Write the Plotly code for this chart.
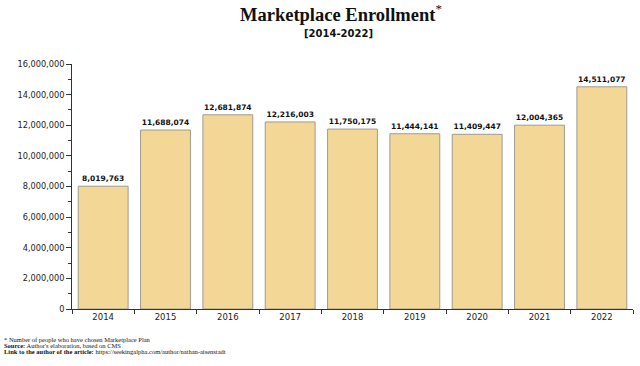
import plotly.graph_objects as go

years = ["2014", "2015", "2016", "2017", "2018", "2019", "2020", "2021", "2022"]
enrollment = [8019763, 11688074, 12681874, 12216003, 11750175, 11444141, 11409447, 12004365, 14511077]
y_ticks = [0, 2000000, 4000000, 6000000, 8000000, 10000000, 12000000, 14000000, 16000000]
footnotes = [
    "* Number of people who have chosen Marketplace Plan",
    "<b>Source:</b> Author's elaboration, based on CMS",
    "<b>Link to the author of the article:</b> https://seekingalpha.com/author/nathan-aisenstadt",
]

fig = go.Figure(go.Bar(
    x=years, y=enrollment,
    marker=dict(color="#F3D797", line=dict(color="#A09A8E", width=1)),
    text=[f"{v:,}" for v in enrollment],
    textposition="outside",
    textfont=dict(family="DejaVu Sans", size=7.5, color="#111111", weight="bold"),
    cliponaxis=False,
))

fig.update_layout(
    width=640, height=366,
    margin=dict(l=72, r=7, t=64, b=57),
    plot_bgcolor="white", paper_bgcolor="white",
    bargap=0.2,
    showlegend=False,
    font=dict(family="DejaVu Sans", size=8.2, color="#222222"),
)
fig.update_yaxes(
    range=[0, 16000000], tickvals=y_ticks, ticktext=[f"{v:,}" for v in y_ticks],
    showgrid=False, zeroline=False, showline=True, linecolor="#333333", linewidth=1,
    ticks="outside", ticklen=5, tickcolor="#333333", automargin=False,
    minor=dict(dtick=1000000, ticks="outside", ticklen=3, tickcolor="#333333", showgrid=False),
    tickfont=dict(family="DejaVu Sans", size=8.2),
)
fig.update_xaxes(
    showgrid=False, showline=True, linecolor="#333333", linewidth=1, automargin=False,
    ticks="outside", tickson="boundaries", ticklen=4, tickcolor="#333333",
    tickfont=dict(family="DejaVu Sans", size=8.5),
)

fig.add_annotation(text="<b>Marketplace Enrollment</b><sup>*</sup>", xref="paper", yref="paper",
                   x=0.5, xshift=-12, y=1, yshift=51, showarrow=False, xanchor="center", yanchor="middle",
                   font=dict(family="Liberation Serif", size=18.5, color="#111111"))
fig.add_annotation(text="<b>[2014-2022]</b>", xref="paper", yref="paper",
                   x=0.5, xshift=-14, y=1, yshift=31, showarrow=False, xanchor="center", yanchor="middle",
                   font=dict(family="DejaVu Sans", size=10, color="#111111"))

for i, line in enumerate(footnotes):
    fig.add_annotation(text=line, xref="paper", yref="paper", x=0, xshift=-70, y=0, yshift=-30 - 6 * i,
                       showarrow=False, xanchor="left", yanchor="middle", align="left",
                       font=dict(family="Liberation Serif", size=6.5, color="#111111"))

fig.write_html("out.html", config={"displayModeBar": False},
               post_script="document.body.style.margin='0';")
